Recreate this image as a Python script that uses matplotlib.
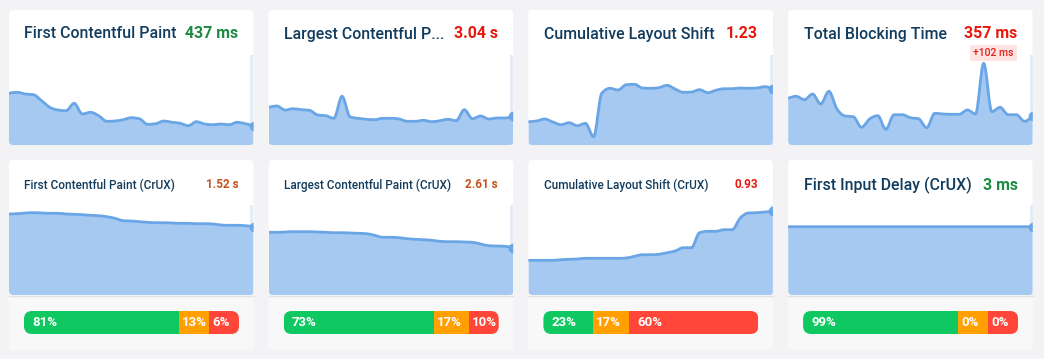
import numpy as np
import matplotlib
matplotlib.use('Agg')
import matplotlib.pyplot as plt
from matplotlib.patches import FancyBboxPatch, Rectangle, PathPatch
from matplotlib.path import Path

plt.rcParams['font.family'] = ['Roboto', 'DejaVu Sans']

W, H = 1044, 359

# Lab test history (chart height units, axis runs 0-90)
fcp_lab = [51.7, 52.7, 51.0, 50.3, 44.3, 37.7, 35.0, 34.3, 41.7, 31.0, 32.7, 29.3, 23.7, 24.0, 25.3, 27.3,
           26.3, 20.7, 21.3, 24.0, 22.7, 21.7, 19.3, 23.3, 21.0, 20.3, 21.0, 20.3, 22.7, 21.3, 19.3]
lcp_lab = [37.7, 39.0, 35.0, 36.3, 35.3, 34.7, 30.0, 29.3, 26.7, 48.7, 28.0, 26.7, 25.7, 25.3, 26.7, 26.7,
           26.0, 23.7, 23.7, 24.7, 23.3, 24.3, 25.7, 24.3, 35.3, 26.3, 29.0, 26.0, 27.0, 27.0, 28.7]
cls_lab = [23.3, 24.0, 26.0, 23.0, 20.3, 22.3, 19.3, 21.7, 8.3, 51.7, 56.7, 55.0, 60.3, 60.7, 57.0, 56.7,
           57.3, 59.7, 56.0, 52.7, 53.0, 55.3, 52.3, 54.7, 56.3, 56.3, 57.0, 56.7, 57.0, 58.3, 56.3]
tbt_lab = [46.7, 48.7, 45.3, 51.0, 41.0, 53.7, 36.0, 29.0, 28.3, 17.7, 26.0, 29.3, 15.7, 30.3, 30.3, 27.3,
           26.3, 17.3, 31.7, 31.0, 30.7, 30.7, 35.0, 31.0, 81.7, 33.3, 37.7, 30.3, 30.3, 23.7, 29.3]

# CrUX field data history
fcp_crux = [81.0, 81.3, 82.0, 82.3, 82.0, 81.7, 81.7, 81.0, 80.7, 80.3, 79.7, 79.3, 78.3, 76.7, 74.3, 74.0,
            73.3, 72.7, 72.3, 72.3, 72.0, 71.7, 71.7, 71.3, 71.3, 71.0, 70.0, 69.7, 69.7, 69.3, 68.3]
lcp_crux = [62.7, 62.7, 63.0, 63.3, 63.3, 63.3, 63.0, 62.7, 62.3, 62.3, 62.0, 61.7, 61.3, 59.7, 57.7, 57.7,
            57.3, 56.3, 55.7, 55.3, 54.7, 53.7, 53.3, 53.3, 53.0, 52.7, 51.0, 49.3, 49.0, 48.7, 47.3]
cls_crux = [34.7, 34.7, 34.7, 34.7, 35.3, 35.7, 36.0, 36.7, 36.7, 36.7, 36.7, 36.7, 37.0, 38.7, 40.3, 40.3,
            40.7, 42.3, 44.0, 47.3, 47.3, 62.3, 63.7, 63.7, 65.3, 65.3, 77.0, 82.0, 82.3, 83.0, 83.7]
fid_crux = [68.3, 68.3, 68.3, 68.3, 68.3, 68.3, 68.3, 68.3, 68.3, 68.3, 68.3, 68.3, 68.3, 68.3, 68.3, 68.3,
            68.3, 68.3, 68.3, 68.3, 68.3, 68.3, 68.3, 68.3, 68.3, 68.3, 68.3, 68.3, 68.3, 68.3, 68.3]

# good / needs improvement / poor shares
fcp_dist = [81, 13, 6]
lcp_dist = [73, 17, 10]
cls_dist = [23, 17, 60]
fid_dist = [99, 0, 0]

lab_titles = ['First Contentful Paint', 'Largest Contentful P...', 'Cumulative Layout Shift', 'Total Blocking Time']
lab_values = ['437 ms', '3.04 s', '1.23', '357 ms']
lab_value_colors = ['#1d8a42', '#e8180c', '#e8180c', '#e8180c']
crux_titles = ['First Contentful Paint (CrUX)', 'Largest Contentful Paint (CrUX)',
               'Cumulative Layout Shift (CrUX)', 'First Input Delay (CrUX)']
crux_values = ['1.52 s', '2.61 s', '0.93', '3 ms']
crux_value_colors = ['#c4531c', '#c4531c', '#e8180c', '#1d8a42']
tbt_badge = '+102 ms'

TITLE_COLOR = '#113c5e'
FILL = '#a5c9f1'
LINE = '#6aa5e6'
DIST_COLORS = ['#10c862', '#ff9f00', '#ff4638']

CARD_W = 244.5
card_x = [9 + i * 259.7 for i in range(4)]


def fig_rect(x0, y0, x1, y1):
    # image pixel box (y downwards) -> figure fraction
    return [x0 / W, 1 - y1 / H, (x1 - x0) / W, (y1 - y0) / H]


def rounded(x, y, w, h, r, **kw):
    return FancyBboxPatch((x, y), w, h, boxstyle=f'round,pad=0,rounding_size={r}',
                          transform=bg.transData, **kw)


def seg_widths(pcts, min_frac=0.14):
    p = np.array(pcts, dtype=float) / 100
    small = p < min_frac
    w = np.where(small, min_frac, 0.0)
    rest = 1 - w.sum()
    w[~small] = p[~small] / p[~small].sum() * rest
    return w


def monotone_path(x, y):
    # bezier curve through the points (monotone-x, like d3.curveMonotoneX)
    x = np.asarray(x, float)
    y = np.asarray(y, float)
    h = np.diff(x)
    s = np.diff(y) / h
    m = np.zeros(len(x))
    for i in range(1, len(x) - 1):
        p = (s[i - 1] * h[i] + s[i] * h[i - 1]) / (h[i - 1] + h[i])
        m[i] = (np.sign(s[i - 1]) + np.sign(s[i])) * min(abs(s[i - 1]), abs(s[i]), 0.5 * abs(p))
    m[0] = (3 * s[0] - m[1]) / 2 if len(x) > 2 else s[0]
    m[-1] = (3 * s[-1] - m[-2]) / 2 if len(x) > 2 else s[-1]
    verts = [(x[0], y[0])]
    codes = [Path.MOVETO]
    for i in range(len(x) - 1):
        d = h[i] / 3
        verts += [(x[i] + d, y[i] + m[i] * d), (x[i + 1] - d, y[i + 1] - m[i + 1] * d), (x[i + 1], y[i + 1])]
        codes += [Path.CURVE4] * 3
    return verts, codes


def draw_history(cx, top, bottom, vals, clip):
    ax = fig.add_axes(fig_rect(cx, top, cx + CARD_W, bottom))
    ax.set_xlim(0, len(vals) - 1)
    ax.set_ylim(0, 90)
    ax.axis('off')
    ax.patch.set_alpha(0)
    x = np.arange(len(vals))
    ax.axvline(len(vals) - 1.25, color='#e3ebf6', lw=2, zorder=0)
    verts, codes = monotone_path(x, vals)
    area = PathPatch(Path(verts + [(x[-1], 0), (x[0], 0), (x[0], vals[0])],
                          codes + [Path.LINETO, Path.LINETO, Path.CLOSEPOLY]),
                     facecolor=FILL, edgecolor='none', zorder=1)
    line = PathPatch(Path(verts, codes), facecolor='none', edgecolor=LINE, lw=2,
                     joinstyle='round', capstyle='round', zorder=2)
    ax.add_patch(area)
    ax.add_patch(line)
    dot, = ax.plot(x[-1], vals[-1], 'o', color=LINE, ms=6, zorder=3)
    for a in (area, line, dot):
        a.set_clip_path(clip)
    return ax


fig = plt.figure(figsize=(W / 100, H / 100), dpi=100)
fig.patch.set_facecolor('#f3f2f5')
bg = fig.add_axes([0, 0, 1, 1])
bg.set_xlim(0, W)
bg.set_ylim(H, 0)
bg.axis('off')

lab_series = [fcp_lab, lcp_lab, cls_lab, tbt_lab]
crux_series = [fcp_crux, lcp_crux, cls_crux, fid_crux]
dists = [fcp_dist, lcp_dist, cls_dist, fid_dist]

for i, cx in enumerate(card_x):
    # top row: lab data cards
    bg.add_patch(rounded(cx, 10, CARD_W, 135, 4, facecolor='white', edgecolor='none'))
    bg.text(cx + 15.5, 34, lab_titles[i], fontsize=11.4, color=TITLE_COLOR,
            fontweight='medium', va='center', ha='left')
    bg.text(cx + 229.5, 34, lab_values[i], fontsize=11.4, color=lab_value_colors[i],
            fontweight='bold', va='center', ha='right')
    draw_history(cx, 55, 145, lab_series[i], rounded(cx, 10, CARD_W, 135, 4))

    # bottom row: CrUX cards
    bg.add_patch(rounded(cx, 160, CARD_W, 190, 4, facecolor='white', edgecolor='none'))
    footer = Rectangle((cx, 295), CARD_W, 55, facecolor='#f8f8f9', edgecolor='none')
    bg.add_patch(footer)
    footer.set_clip_path(rounded(cx, 160, CARD_W, 190, 4))
    bg.plot([cx, cx + CARD_W], [295.5, 295.5], color='#e2e2e5', lw=1)
    big = i == 3
    bg.text(cx + 15.5, 185, crux_titles[i], fontsize=11.4 if big else 8.5, color=TITLE_COLOR,
            fontweight='medium', va='center', ha='left')
    bg.text(cx + 229.5, 185, crux_values[i], fontsize=11.4 if big else 8.5, color=crux_value_colors[i],
            fontweight='bold', va='center', ha='right')
    draw_history(cx, 205, 295, crux_series[i], rounded(cx, 160, CARD_W, 135, 4))

    # distribution bar
    bx0, bx1, by0, by1 = cx + 15, cx + 230, 311, 334
    dax = fig.add_axes(fig_rect(bx0, by0, bx1, by1))
    dax.set_xlim(0, 1)
    dax.set_ylim(0, 1)
    dax.axis('off')
    dax.patch.set_alpha(0)
    w = seg_widths(dists[i])
    lefts = np.concatenate([[0], np.cumsum(w)[:-1]])
    bars = dax.barh(0.5, w, left=lefts, height=1, color=DIST_COLORS, lw=0)
    clip = rounded(bx0, by0, bx1 - bx0, by1 - by0, 8)
    for b in bars:
        b.set_clip_path(clip)
    for p, l, wd in zip(dists[i], lefts, w):
        pad = 8 if wd * (bx1 - bx0) > 40 else 3
        dax.text(l + pad / (bx1 - bx0), 0.5, f'{p}%', color='white', fontsize=9.5,
                 fontweight='bold', va='center', ha='left')

# regression badge on TBT card
bg.add_patch(rounded(970, 45, 47, 16, 2, facecolor='#fde3e1', edgecolor='none'))
bg.text(993.5, 53.5, tbt_badge, fontsize=7.5, color='#e0201a', fontweight='medium',
        va='center', ha='center')

fig.savefig('out.png', dpi=100, facecolor=fig.get_facecolor())
